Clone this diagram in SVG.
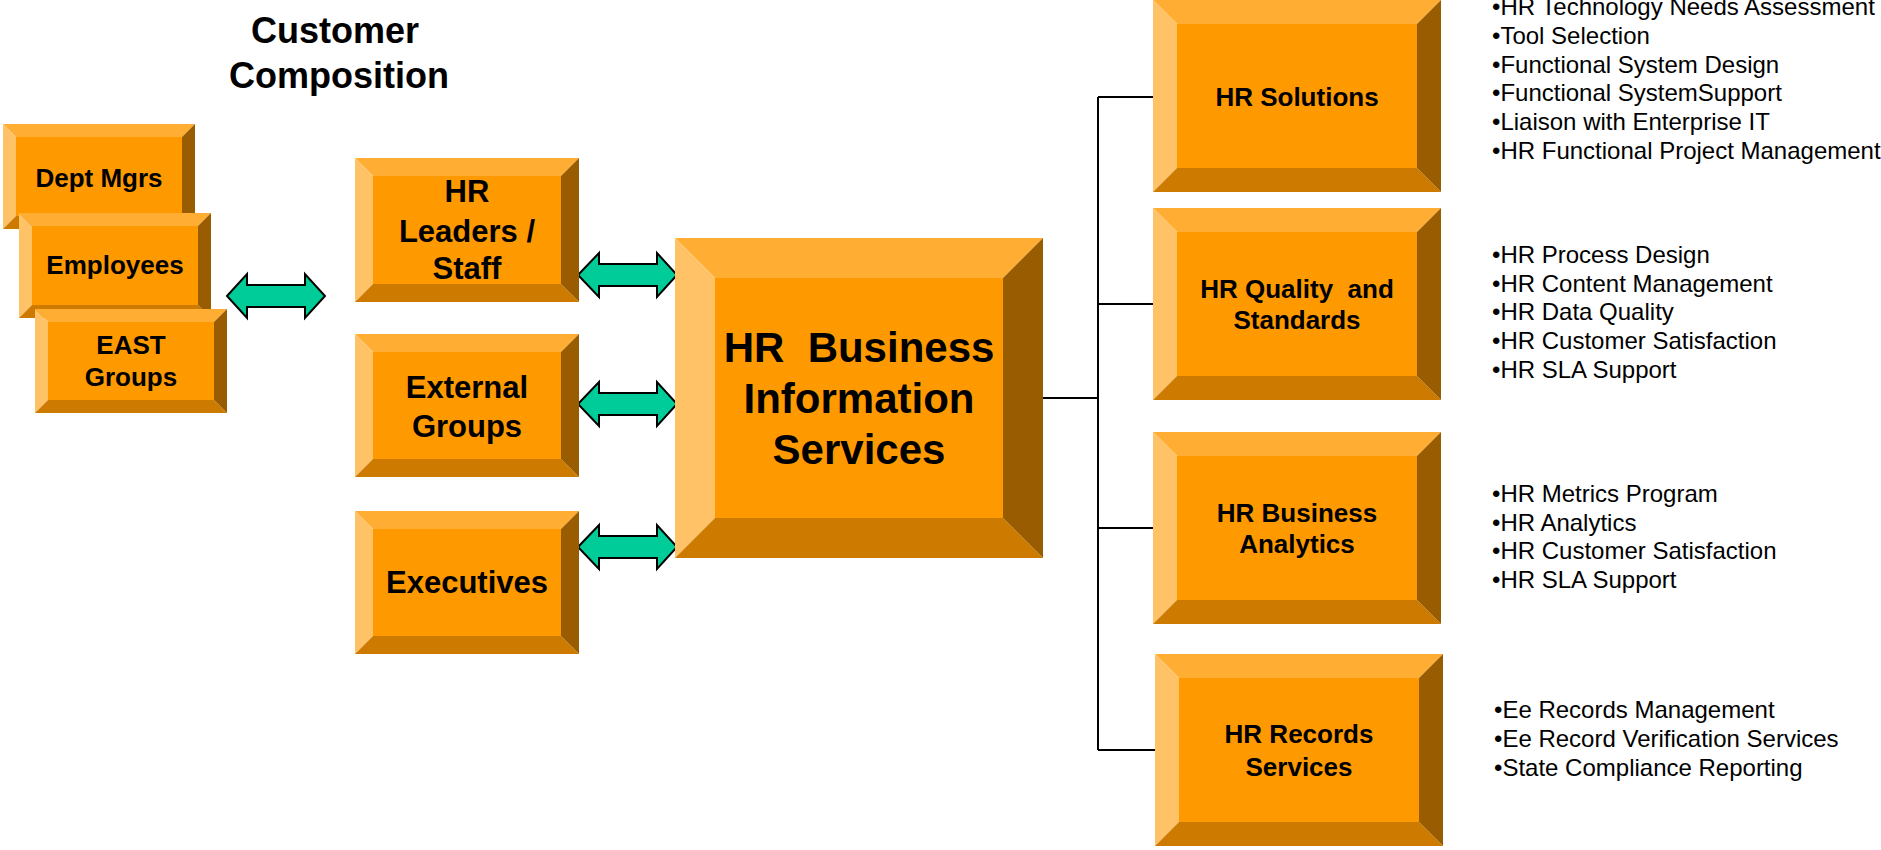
<svg xmlns="http://www.w3.org/2000/svg" width="1881" height="850" viewBox="0 0 1881 850">
<style>
.f{fill:#FF9900}.t{fill:#FFAD33}.l{fill:#FFC266}.b{fill:#CC7A00}.r{fill:#995C00}
.lb{font-family:"Liberation Sans",Arial,sans-serif;font-weight:bold;fill:#000;text-anchor:middle;white-space:pre}
.s{font-size:26px}.m{font-size:31px}.x{font-size:42px}
.li{font-family:"Liberation Sans",Arial,sans-serif;font-size:24px;fill:#000}
.ttl{font-family:"Liberation Sans",Arial,sans-serif;font-weight:bold;font-size:36px;fill:#000}
.ar{fill:#00CC99;stroke:#000;stroke-width:2;stroke-linejoin:miter}
.cn{fill:none;stroke:#000;stroke-width:2}
</style>
<rect width="1881" height="850" fill="#fff"/>
<g id="title">
<text class="ttl" x="251" y="43">Customer</text>
<text class="ttl" x="229" y="88">Composition</text>
</g>
<g id="connectors">
<path class="cn" d="M1043,398 H1098 M1098,97 V750 M1098,97 H1153 M1098,304 H1153 M1098,528 H1153 M1098,750 H1155"/>
<path class="ar" d="M227,296 L247,274 L247,285 L305,285 L305,274 L325,296 L305,318 L305,307 L247,307 L247,318 Z"/>
<path class="ar" d="M578,275 L599,253 L599,264 L657,264 L657,253 L677,275 L657,297 L657,286 L599,286 L599,297 Z"/>
<path class="ar" d="M578,404 L599,382 L599,393 L657,393 L657,382 L677,404 L657,426 L657,415 L599,415 L599,426 Z"/>
<path class="ar" d="M578,547 L599,525 L599,536 L657,536 L657,525 L677,547 L657,569 L657,558 L599,558 L599,569 Z"/>
</g>
<g id="dept-mgrs">
<rect class="f" x="16" y="137" width="166" height="79"/>
<polygon class="t" points="3,124 195,124 182,137 16,137"/>
<polygon class="l" points="3,124 16,137 16,216 3,229"/>
<polygon class="b" points="3,229 16,216 182,216 195,229"/>
<polygon class="r" points="195,124 195,229 182,216 182,137"/>
<text class="lb s" x="99" y="187">Dept Mgrs</text>
</g>
<g id="employees">
<rect class="f" x="32" y="226" width="166" height="79"/>
<polygon class="t" points="19,213 211,213 198,226 32,226"/>
<polygon class="l" points="19,213 32,226 32,305 19,318"/>
<polygon class="b" points="19,318 32,305 198,305 211,318"/>
<polygon class="r" points="211,213 211,318 198,305 198,226"/>
<text class="lb s" x="115" y="274">Employees</text>
</g>
<g id="east-groups">
<rect class="f" x="48" y="322" width="166" height="78"/>
<polygon class="t" points="35,309 227,309 214,322 48,322"/>
<polygon class="l" points="35,309 48,322 48,400 35,413"/>
<polygon class="b" points="35,413 48,400 214,400 227,413"/>
<polygon class="r" points="227,309 227,413 214,400 214,322"/>
<text class="lb s" x="131" y="354">EAST</text>
<text class="lb s" x="131" y="386">Groups</text>
</g>
<g id="hr-leaders">
<rect class="f" x="373" y="176" width="188" height="108"/>
<polygon class="t" points="355,158 579,158 561,176 373,176"/>
<polygon class="l" points="355,158 373,176 373,284 355,302"/>
<polygon class="b" points="355,302 373,284 561,284 579,302"/>
<polygon class="r" points="579,158 579,302 561,284 561,176"/>
<text class="lb m" x="467" y="202">HR</text>
<text class="lb m" x="467" y="242">Leaders /</text>
<text class="lb m" x="467" y="279">Staff</text>
</g>
<g id="external-groups">
<rect class="f" x="373" y="352" width="188" height="107"/>
<polygon class="t" points="355,334 579,334 561,352 373,352"/>
<polygon class="l" points="355,334 373,352 373,459 355,477"/>
<polygon class="b" points="355,477 373,459 561,459 579,477"/>
<polygon class="r" points="579,334 579,477 561,459 561,352"/>
<text class="lb m" x="467" y="398">External</text>
<text class="lb m" x="467" y="437">Groups</text>
</g>
<g id="executives">
<rect class="f" x="373" y="529" width="188" height="107"/>
<polygon class="t" points="355,511 579,511 561,529 373,529"/>
<polygon class="l" points="355,511 373,529 373,636 355,654"/>
<polygon class="b" points="355,654 373,636 561,636 579,654"/>
<polygon class="r" points="579,511 579,654 561,636 561,529"/>
<text class="lb m" x="467" y="593">Executives</text>
</g>
<g id="hr-bis">
<rect class="f" x="715" y="278" width="288" height="240"/>
<polygon class="t" points="675,238 1043,238 1003,278 715,278"/>
<polygon class="l" points="675,238 715,278 715,518 675,558"/>
<polygon class="b" points="675,558 715,518 1003,518 1043,558"/>
<polygon class="r" points="1043,238 1043,558 1003,518 1003,278"/>
<text class="lb x" x="859" y="362">HR  Business</text>
<text class="lb x" x="859" y="413">Information</text>
<text class="lb x" x="859" y="464">Services</text>
</g>
<g id="hr-solutions">
<rect class="f" x="1177" y="24" width="240" height="144"/>
<polygon class="t" points="1153,0 1441,0 1417,24 1177,24"/>
<polygon class="l" points="1153,0 1177,24 1177,168 1153,192"/>
<polygon class="b" points="1153,192 1177,168 1417,168 1441,192"/>
<polygon class="r" points="1441,0 1441,192 1417,168 1417,24"/>
<text class="lb s" x="1297" y="106">HR Solutions</text>
<text class="li" x="1492" y="15">•HR Technology Needs Assessment</text>
<text class="li" x="1492" y="44">•Tool Selection</text>
<text class="li" x="1492" y="73">•Functional System Design</text>
<text class="li" x="1492" y="101">•Functional SystemSupport</text>
<text class="li" x="1492" y="130">•Liaison with Enterprise IT</text>
<text class="li" x="1492" y="159">•HR Functional Project Management</text>
</g>
<g id="hr-quality">
<rect class="f" x="1177" y="232" width="240" height="144"/>
<polygon class="t" points="1153,208 1441,208 1417,232 1177,232"/>
<polygon class="l" points="1153,208 1177,232 1177,376 1153,400"/>
<polygon class="b" points="1153,400 1177,376 1417,376 1441,400"/>
<polygon class="r" points="1441,208 1441,400 1417,376 1417,232"/>
<text class="lb s" x="1297" y="298">HR Quality  and</text>
<text class="lb s" x="1297" y="329">Standards</text>
<text class="li" x="1492" y="263">•HR Process Design</text>
<text class="li" x="1492" y="292">•HR Content Management</text>
<text class="li" x="1492" y="320">•HR Data Quality</text>
<text class="li" x="1492" y="349">•HR Customer Satisfaction</text>
<text class="li" x="1492" y="378">•HR SLA Support</text>
</g>
<g id="hr-analytics">
<rect class="f" x="1177" y="456" width="240" height="144"/>
<polygon class="t" points="1153,432 1441,432 1417,456 1177,456"/>
<polygon class="l" points="1153,432 1177,456 1177,600 1153,624"/>
<polygon class="b" points="1153,624 1177,600 1417,600 1441,624"/>
<polygon class="r" points="1441,432 1441,624 1417,600 1417,456"/>
<text class="lb s" x="1297" y="522">HR Business</text>
<text class="lb s" x="1297" y="553">Analytics</text>
<text class="li" x="1492" y="502">•HR Metrics Program</text>
<text class="li" x="1492" y="531">•HR Analytics</text>
<text class="li" x="1492" y="559">•HR Customer Satisfaction</text>
<text class="li" x="1492" y="588">•HR SLA Support</text>
</g>
<g id="hr-records">
<rect class="f" x="1179" y="678" width="240" height="144"/>
<polygon class="t" points="1155,654 1443,654 1419,678 1179,678"/>
<polygon class="l" points="1155,654 1179,678 1179,822 1155,846"/>
<polygon class="b" points="1155,846 1179,822 1419,822 1443,846"/>
<polygon class="r" points="1443,654 1443,846 1419,822 1419,678"/>
<text class="lb s" x="1299" y="743">HR Records</text>
<text class="lb s" x="1299" y="776">Services</text>
<text class="li" x="1494" y="718">•Ee Records Management</text>
<text class="li" x="1494" y="747">•Ee Record Verification Services</text>
<text class="li" x="1494" y="776">•State Compliance Reporting</text>
</g>
</svg>
